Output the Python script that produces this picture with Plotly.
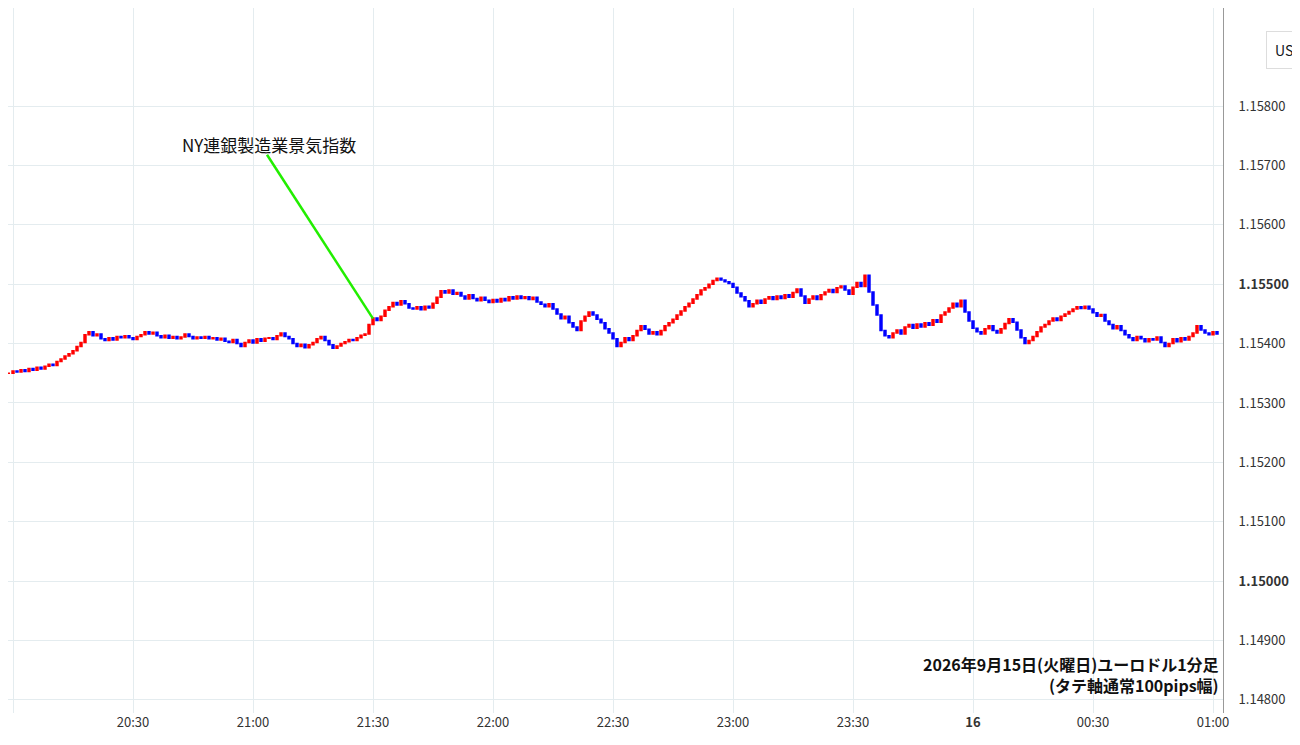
import plotly.graph_objects as go
import pandas as pd

# closes in pips above 1.15000, one per minute from 19:59
close_pips = [35.0,
 35.0,35.4,35.2,35.6,35.3,35.8,35.5,36.0,35.7,36.2,
 36.5,36.3,37.0,37.4,37.9,38.3,38.8,39.5,40.2,41.5,
 42.0,41.3,41.6,40.8,40.5,41.0,40.6,41.2,41.0,41.3,
 41.0,40.7,41.2,41.5,42.0,41.6,41.9,41.3,41.0,41.4,
 40.9,41.2,40.8,41.1,41.6,41.2,40.8,41.1,40.9,41.2,
 40.8,41.0,40.6,40.9,40.4,40.2,40.7,40.0,39.5,40.2,
 40.6,40.1,40.8,40.4,40.9,41.0,40.7,41.3,41.8,41.2,
 40.8,40.0,39.5,39.9,39.3,39.8,40.2,40.8,41.2,40.5,
 39.8,39.2,39.6,40.0,40.3,40.7,40.5,41.0,41.4,41.6,
 43.2,44.3,43.9,44.6,45.6,46.2,46.9,46.5,47.2,46.7,
 46.0,45.8,46.2,45.7,46.3,46.0,46.8,47.8,48.9,48.5,
 49.0,48.3,48.6,48.0,47.5,48.2,47.6,47.2,47.8,47.3,
 46.9,47.4,47.0,47.6,47.2,47.9,47.5,48.0,47.6,47.9,
 47.4,47.8,47.0,46.6,46.2,46.7,45.8,45.0,44.2,44.6,
 43.5,42.8,42.2,43.8,44.6,45.3,44.8,44.1,43.5,42.5,
 41.8,40.8,39.5,40.2,41.0,40.5,41.3,42.2,43.0,42.4,
 41.6,42.0,41.5,42.2,43.0,43.5,44.1,44.8,45.5,46.2,
 46.8,47.5,48.2,49.0,49.4,50.0,50.6,51.0,50.7,50.4,
 50.1,49.5,48.5,47.9,47.2,46.2,46.7,47.3,46.8,47.5,
 47.9,47.4,48.0,47.6,48.2,47.8,48.6,49.2,48.0,46.8,
 47.5,48.0,47.4,48.2,48.7,49.1,48.6,49.4,49.7,49.0,
 48.3,49.5,50.3,49.6,51.5,48.7,46.5,44.8,42.2,41.3,
 41.0,41.8,42.3,41.6,42.8,43.2,42.6,43.3,42.8,43.5,
 43.1,44.0,43.6,44.8,45.3,46.0,46.8,46.2,47.3,45.3,
 43.8,42.6,42.0,41.6,42.5,43.0,42.2,41.8,42.5,43.4,
 44.2,43.6,42.3,41.0,40.0,40.5,41.2,42.0,42.8,43.2,
 43.8,44.3,43.9,44.6,45.0,45.4,45.8,46.2,45.9,46.3,
 45.8,45.2,44.6,44.9,43.8,43.2,42.5,43.0,42.2,41.5,
 41.0,40.5,41.2,40.8,40.3,40.8,40.6,41.1,40.2,39.5,
 40.0,40.8,40.3,41.0,40.6,41.2,41.8,43.0,42.3,41.8,
 41.5,42.0,41.6]

start = "2026-09-15 19:58"
tick_vals = ["2026-09-15 20:00","2026-09-15 20:30","2026-09-15 21:00","2026-09-15 21:30",
             "2026-09-15 22:00","2026-09-15 22:30","2026-09-15 23:00","2026-09-15 23:30",
             "2026-09-16 00:00","2026-09-16 00:30","2026-09-16 01:00"]
tick_text = ["20:00","20:30","21:00","21:30","22:00","22:30","23:00","23:30","<b>16</b>","00:30","01:00"]
y_ticks = [1.148,1.149,1.150,1.151,1.152,1.153,1.154,1.155,1.156,1.157,1.158]

prices = [1.15 + p/10000 for p in close_pips]
times = pd.date_range(start, periods=len(prices), freq="min")
opens = prices[:-1]
closes = prices[1:]
t = times[1:]
highs = [max(o, c) for o, c in zip(opens, closes)]
lows = [min(o, c) for o, c in zip(opens, closes)]

fig = go.Figure(go.Candlestick(
    x=t, open=opens, high=highs, low=lows, close=closes,
    increasing=dict(line=dict(color="#ff0000", width=1.5), fillcolor="#ff0000"),
    decreasing=dict(line=dict(color="#0000ff", width=1.5), fillcolor="#0000ff"),
    whiskerwidth=0, showlegend=False))

ytext = [f"<b>{v:.5f}</b>" if abs(v*1000 % 5) < 1e-6 else f"{v:.5f}" for v in y_ticks]

fig.update_layout(
    width=1300, height=745, margin=dict(l=0, r=85, t=0, b=40, autoexpand=False),
    paper_bgcolor="white", plot_bgcolor="white",
    font=dict(family="Noto Sans CJK JP", color="#131722"),
    xaxis=dict(rangeslider=dict(visible=False), range=["2026-09-15 19:58:45", "2026-09-16 01:02:30"],
               tickvals=tick_vals, ticktext=tick_text, showgrid=True, gridcolor="#e4ecef",
               tickfont=dict(size=13, color="#333"), ticks="", zeroline=False, automargin=False),
    yaxis=dict(side="right", range=[1.14778, 1.15965], tickvals=y_ticks, ticktext=ytext,
               showgrid=True, gridcolor="#e4ecef", tickfont=dict(size=13, color="#333"),
               showline=True, linecolor="#999", ticks="", ticklabelstandoff=12, automargin=False),
)

fig.add_shape(type="line", x0="2026-09-15 21:03:30", y0=1.15718, x1="2026-09-15 21:30", y1=1.15442,
              line=dict(color="#22ee00", width=2.5))
fig.add_annotation(x="2026-09-15 21:04", y=1.15736, text="NY連銀製造業景気指数", showarrow=False,
                   font=dict(size=17, color="#111"))
fig.add_annotation(xref="paper", yref="paper", x=0.998, y=0.02, xanchor="right", yanchor="bottom",
                   text="<b>2026年9月15日(火曜日)ユーロドル1分足<br>(タテ軸通常100pips幅)</b>", align="right",
                   showarrow=False, font=dict(size=16, color="#111"))
fig.add_annotation(xref="paper", yref="paper", x=1.035, xanchor="left", y=0.967, text="USD", showarrow=False,
                   bordercolor="#ddd", borderwidth=1, borderpad=8, bgcolor="white",
                   font=dict(size=14, color="#131722"))

fig.write_html("out.html")
